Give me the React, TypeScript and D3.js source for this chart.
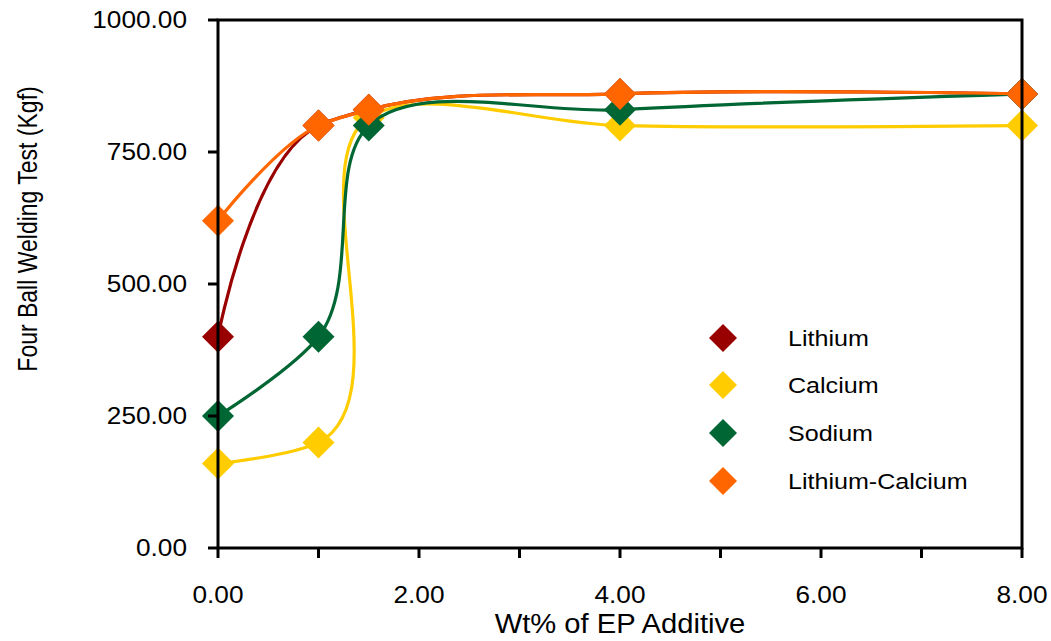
import React from "react";
import * as d3 from "d3";

// Weight percent of EP additive
const wtPercent = [0, 1, 1.5, 4, 8];

// Four ball weld load (Kgf) per grease thickener
const lithium = [400, 800, 830, 860, 860];
const calcium = [160, 200, 815, 800, 800];
const sodium = [250, 400, 800, 830, 860];
const lithiumCalcium = [620, 800, 830, 860, 860];

const seriesNames = ["Lithium", "Calcium", "Sodium", "Lithium-Calcium"];
const seriesValues = [lithium, calcium, sodium, lithiumCalcium];
const seriesColors = ["#990000", "#FFCC00", "#006633", "#FF6600"];

const yTicks = [0, 250, 500, 750, 1000];
const xMinorTicks = [0, 1, 2, 3, 4, 5, 6, 7, 8];
const xLabelTicks = [0, 2, 4, 6, 8];

const W = 1051;
const H = 641;
const left = 218;
const right = 1022;
const top = 20;
const bottom = 548;

const FONT = "'Liberation Sans', Arial, sans-serif";
const STRETCH = 1.14;

// Horizontally widened text label
function WideText({
  x,
  y,
  size,
  anchor = "start",
  sx = STRETCH,
  dy,
  children,
}: {
  x: number;
  y: number;
  size: number;
  anchor?: "start" | "middle" | "end";
  sx?: number;
  dy?: string;
  children: React.ReactNode;
}) {
  return (
    <g transform={`translate(${x},${y}) scale(${sx},1)`}>
      <text x={0} y={0} dy={dy} textAnchor={anchor} fontSize={size} fill="#000">
        {children}
      </text>
    </g>
  );
}

export default function App() {
  const x = d3.scaleLinear().domain([0, 8]).range([left, right]);
  const y = d3.scaleLinear().domain([0, 1000]).range([bottom, top]);

  const line = d3
    .line<number>()
    .x((_, i) => x(wtPercent[i]))
    .y((d) => y(d))
    .curve(d3.curveCatmullRom.alpha(1));

  const diamond = (cx: number, cy: number, r: number) =>
    `M${cx},${cy - r}L${cx + r},${cy}L${cx},${cy + r}L${cx - r},${cy}Z`;

  const legendX = 723;
  const legendY = [338, 385, 433, 481];

  return (
    <svg
      width={W}
      height={H}
      style={{ position: "absolute", left: 0, top: 0, background: "#fff" }}
      fontFamily={FONT}
    >
      {/* series: line then markers, in order */}
      {seriesValues.map((vals, s) => (
        <g key={seriesNames[s]}>
          <path
            d={line(vals) || ""}
            fill="none"
            stroke={seriesColors[s]}
            strokeWidth={3.2}
          />
          {vals.map((v, i) => (
            <path
              key={i}
              d={diamond(x(wtPercent[i]), y(v), 16)}
              fill={seriesColors[s]}
            />
          ))}
        </g>
      ))}

      {/* frame */}
      <rect
        x={left}
        y={top}
        width={right - left}
        height={bottom - top}
        fill="none"
        stroke="#000"
        strokeWidth={3}
      />

      {/* y axis ticks and labels */}
      {yTicks.map((t) => (
        <g key={t}>
          <line x1={left - 10} x2={left} y1={y(t)} y2={y(t)} stroke="#000" strokeWidth={3} />
          <WideText x={187} y={y(t)} dy="0.36em" anchor="end" size={23}>
            {d3.format(".2f")(t)}
          </WideText>
        </g>
      ))}

      {/* x axis ticks */}
      {xMinorTicks.map((t) => (
        <line key={t} x1={x(t)} x2={x(t)} y1={bottom} y2={bottom + 10} stroke="#000" strokeWidth={3} />
      ))}
      {xLabelTicks.map((t) => (
        <WideText key={t} x={x(t)} y={603} anchor="middle" size={23}>
          {d3.format(".2f")(t)}
        </WideText>
      ))}

      {/* axis titles */}
      <WideText x={620} y={633} anchor="middle" size={27} sx={1.08}>
        Wt% of EP Additive
      </WideText>
      <g transform="translate(37,229) rotate(-90) scale(1,1.22)">
        <text x={0} y={0} textAnchor="middle" fontSize={23} fill="#000">
          Four Ball Welding Test (Kgf)
        </text>
      </g>

      {/* legend */}
      {seriesNames.map((name, s) => (
        <g key={name}>
          <path d={diamond(legendX, legendY[s], 14)} fill={seriesColors[s]} />
          <WideText x={788} y={legendY[s]} dy="0.36em" size={22}>
            {name}
          </WideText>
        </g>
      ))}
    </svg>
  );
}
